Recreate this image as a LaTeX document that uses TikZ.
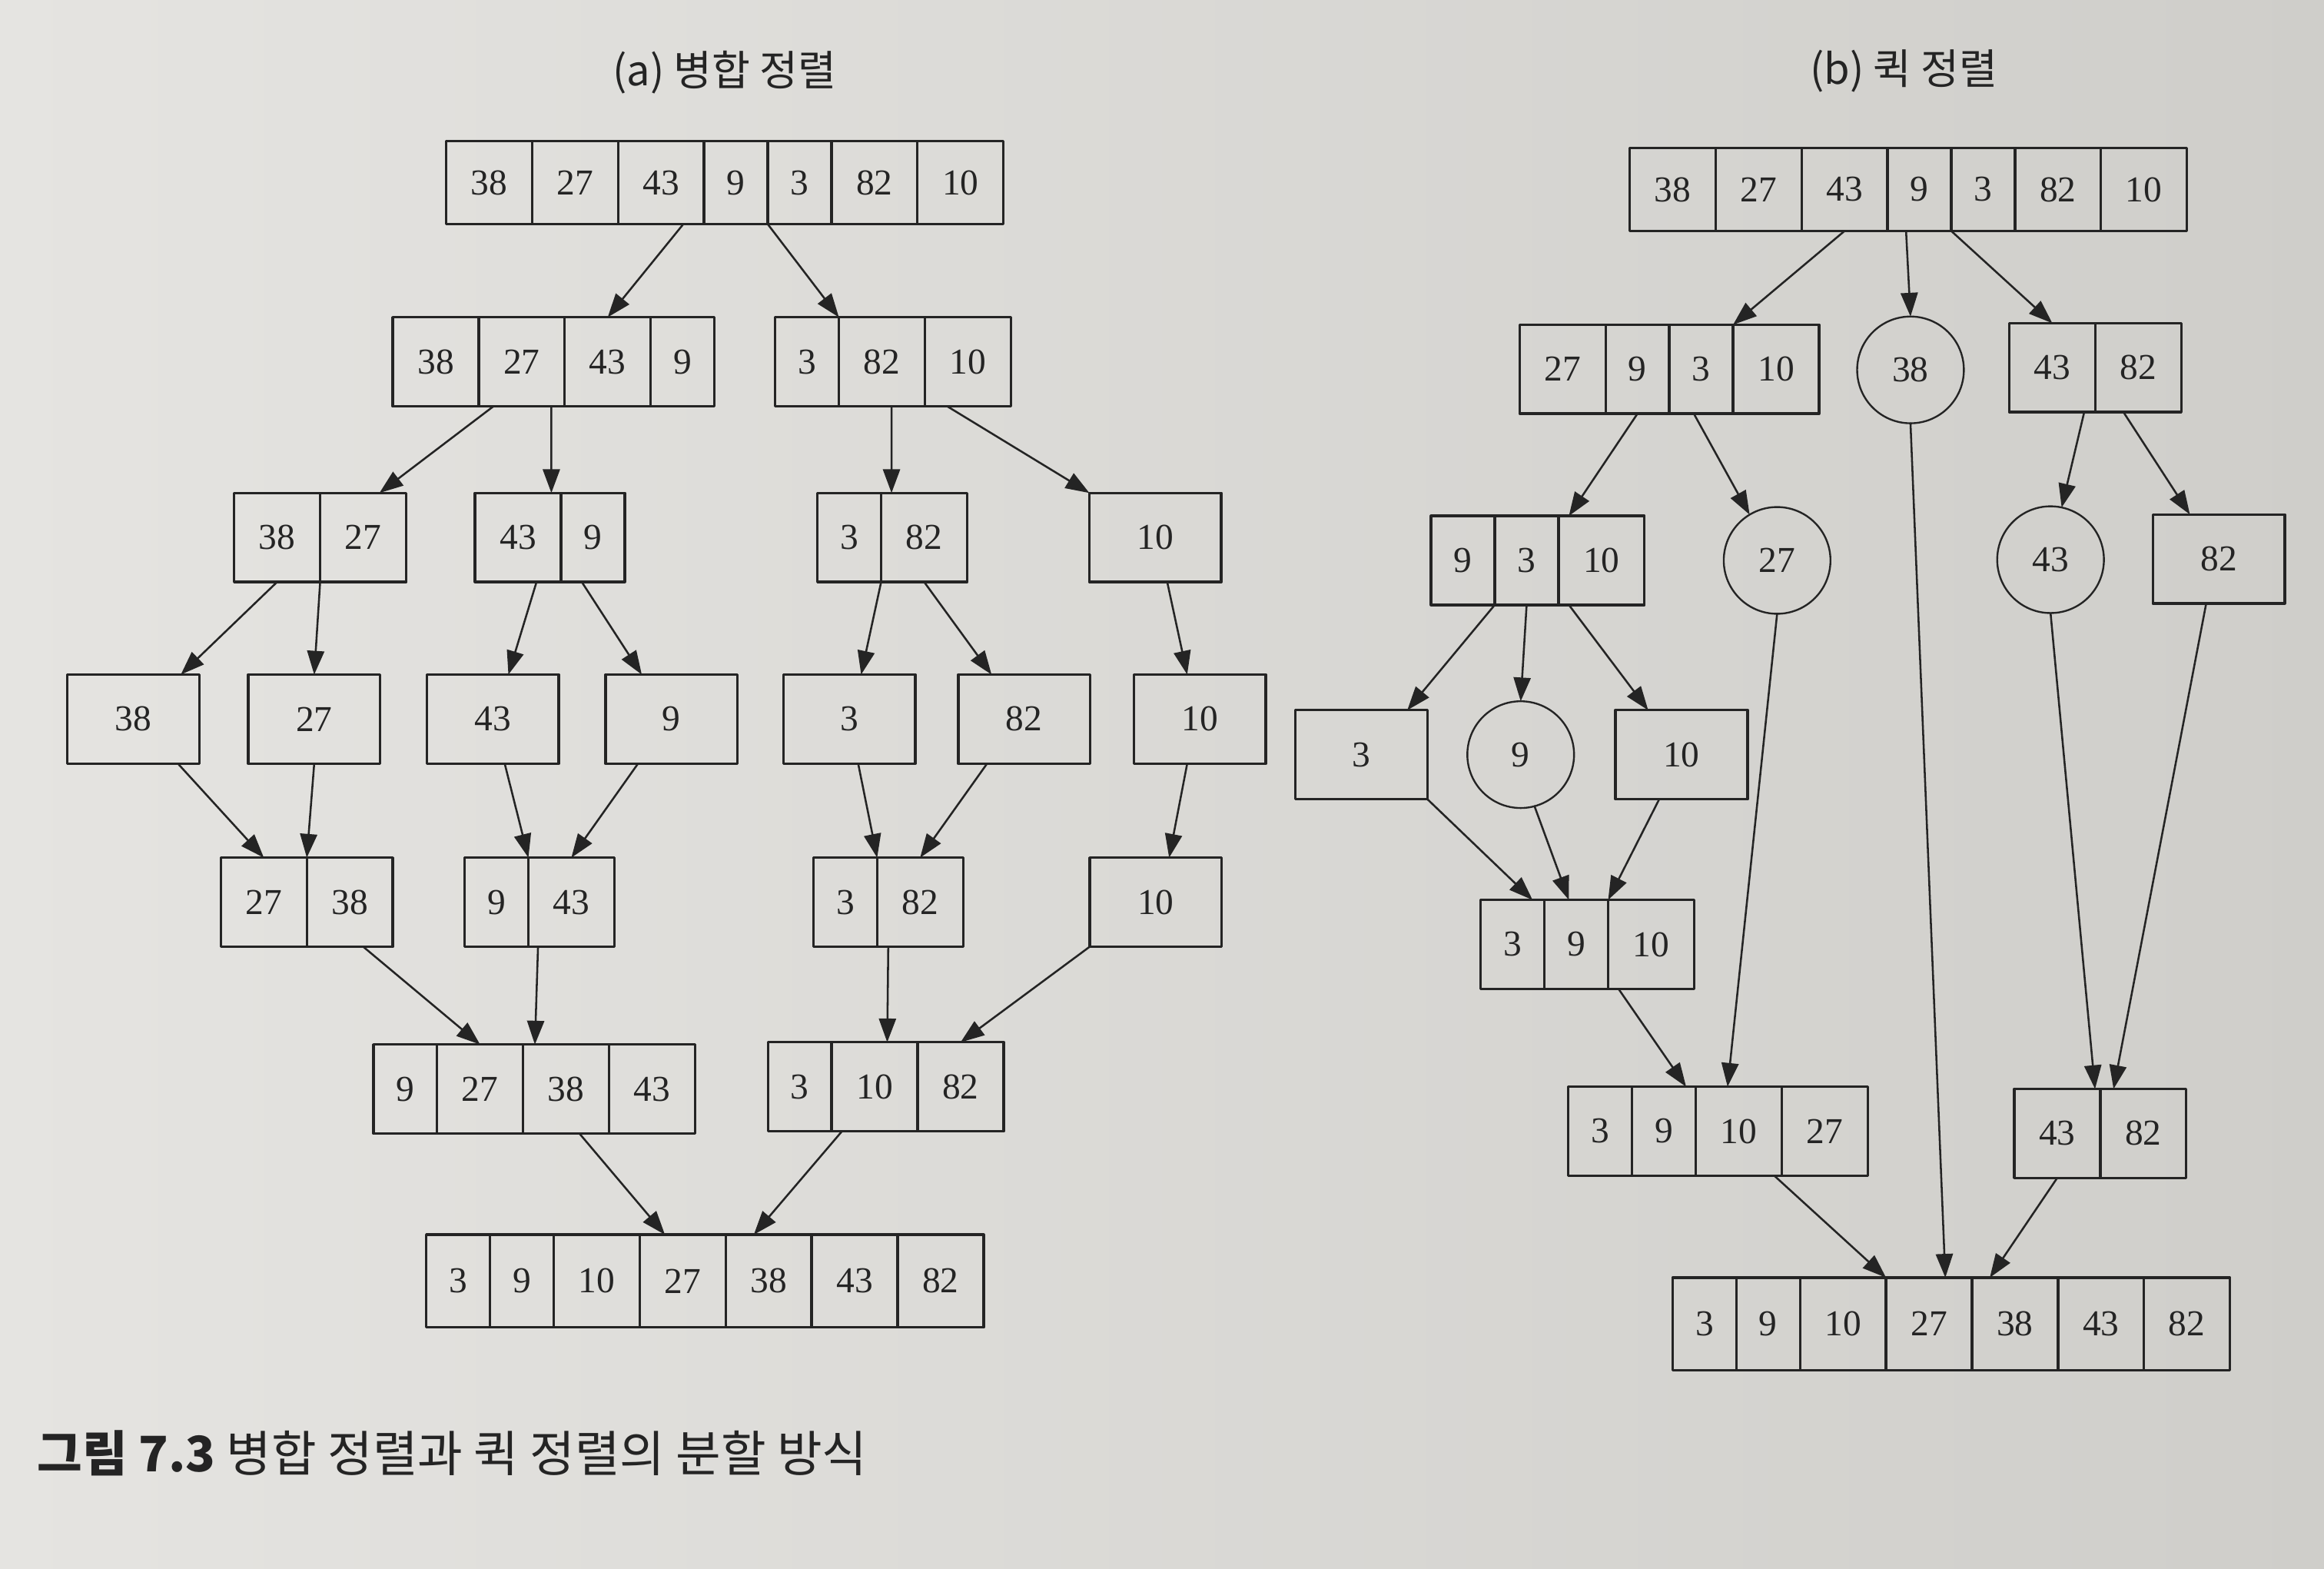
\documentclass[tikz,border=0pt]{standalone}
\usepackage{fontspec}
\setmainfont{Liberation Serif}
\newfontfamily\kr{Noto Sans CJK KR}
\usetikzlibrary{arrows.meta}
\definecolor{ink}{RGB}{36,36,36}
\definecolor{paperl}{RGB}{229,228,225}
\definecolor{paperr}{RGB}{207,206,202}
\tikzset{
	cell/.style={draw=ink,line width=1pt,minimum width=1.16cm,minimum height=1.2cm,inner sep=0pt,outer sep=0pt,text=ink,font=\fontsize{14}{16}\selectfont},
	cellnarrow/.style={cell,minimum width=0.86cm},
	leaf/.style={cell,minimum width=1.78cm},
	pivot/.style={circle,draw=ink,line width=0.7pt,minimum size=1.44cm,inner sep=0pt,outer sep=0pt,text=ink,font=\fontsize{14}{16}\selectfont},
	toprow/.style={minimum height=1.12cm},
	lastrow/.style={minimum height=1.25cm},
	link/.style={->,draw=ink,line width=0.75pt}
}
\begin{document}
\begin{tikzpicture}[line cap=round,line join=round,>={Triangle[length=3.2mm,width=2.3mm]},x=0.2mm,y=-0.2mm]
			\clip(0,0) rectangle (1568,1058);
			\shade [left color=paperl,right color=paperr] (0,0) rectangle (1568,1058);
			% (a) merge sort
			\node [font=\kr\fontsize{16}{19}\selectfont,text=ink] (ta) at (489,49) {(a) 병합 정렬};
			\node [cell,toprow] (m0-1) at (330,123.2) {38};
			\node [cell,toprow] (m0-2) at (388,123.2) {27};
			\node [cell,toprow] (m0-3) at (446,123.2) {43};
			\node [cellnarrow,toprow] (m0-4) at (496.5,123.2) {9};
			\node [cellnarrow,toprow] (m0-5) at (539.5,123.2) {3};
			\node [cell,toprow] (m0-6) at (590,123.2) {82};
			\node [cell,toprow] (m0-7) at (648,123.2) {10};
			\node [cell] (m1a-1) at (294,244) {38};
			\node [cell] (m1a-2) at (352,244) {27};
			\node [cell] (m1a-3) at (410,244) {43};
			\node [cellnarrow] (m1a-4) at (460.5,244) {9};
			\node [cellnarrow] (m1b-1) at (544.5,244) {3};
			\node [cell] (m1b-2) at (595,244) {82};
			\node [cell] (m1b-3) at (653,244) {10};
			\node [cell] (m2a-1) at (187,362.5) {38};
			\node [cell] (m2a-2) at (245,362.5) {27};
			\node [cell] (m2b-1) at (349.5,362.5) {43};
			\node [cellnarrow] (m2b-2) at (400,362.5) {9};
			\node [cellnarrow] (m2c-1) at (573,362.5) {3};
			\node [cell] (m2c-2) at (623.5,362.5) {82};
			\node [leaf] (m2d) at (779.5,362.5) {10};
			\node [leaf] (m3a) at (90,485) {38};
			\node [leaf] (m3b) at (212,485) {27};
			\node [leaf] (m3c) at (332.5,485) {43};
			\node [leaf] (m3d) at (453,485) {9};
			\node [leaf] (m3e) at (573,485) {3};
			\node [leaf] (m3f) at (691,485) {82};
			\node [leaf] (m3g) at (809.5,485) {10};
			\node [cell] (m4a-1) at (178,608.5) {27};
			\node [cell] (m4a-2) at (236,608.5) {38};
			\node [cellnarrow] (m4b-1) at (335,608.5) {9};
			\node [cell] (m4b-2) at (385.5,608.5) {43};
			\node [cellnarrow] (m4c-1) at (570.3,608.5) {3};
			\node [cell] (m4c-2) at (620.8,608.5) {82};
			\node [leaf] (m4d) at (779.8,608.5) {10};
			\node [cellnarrow] (m5a-1) at (273.4,734.5) {9};
			\node [cell] (m5a-2) at (323.9,734.5) {27};
			\node [cell] (m5a-3) at (381.9,734.5) {38};
			\node [cell] (m5a-4) at (439.9,734.5) {43};
			\node [cellnarrow] (m5b-1) at (539.6,733) {3};
			\node [cell] (m5b-2) at (590.1,733) {10};
			\node [cell] (m5b-3) at (648.1,733) {82};
			\node [cellnarrow,lastrow] (m6-1) at (309.1,864) {3};
			\node [cellnarrow,lastrow] (m6-2) at (352.1,864) {9};
			\node [cell,lastrow] (m6-3) at (402.6,864) {10};
			\node [cell,lastrow] (m6-4) at (460.6,864) {27};
			\node [cell,lastrow] (m6-5) at (518.6,864) {38};
			\node [cell,lastrow] (m6-6) at (576.6,864) {43};
			\node [cell,lastrow] (m6-7) at (634.6,864) {82};
			\draw [link] ([xshift=3mm]m0-3.south)-- (m1a-3.north);
			\draw [link] (m0-4.south east)-- (m1b-1.north east);
			\draw [link] ([xshift=2mm]m1a-2.south west)-- ([xshift=2.2mm]m2a-2.north);
			\draw [link] ([xshift=4mm]m1a-2.south)-- ([xshift=4.5mm]m2b-1.north);
			\draw [link] ([xshift=1.3mm]m1b-2.south)-- ([xshift=1.4mm]m2c-1.north east);
			\draw [link] ([xshift=3mm]m1b-3.south west)-- (m2d.north west);
			\draw [link] (m2a-1.south)-- ([xshift=6.4mm]m3a.north);
			\draw [link] (m2a-1.south east)-- (m3b.north);
			\draw [link] ([xshift=2.5mm]m2b-1.south)-- ([xshift=2.1mm]m3c.north);
			\draw [link] ([xshift=-1.5mm]m2b-2.south)-- ([xshift=-4mm]m3d.north);
			\draw [link] (m2c-1.south east)-- ([xshift=1.6mm]m3e.north);
			\draw [link] (m2c-2.south)-- ([xshift=-4.4mm]m3f.north);
			\draw [link] ([xshift=1.6mm]m2d.south)-- ([xshift=-1.7mm]m3g.north);
			\draw [link] ([xshift=6mm]m3a.south)-- (m4a-1.north);
			\draw [link] (m3b.south)-- (m4a-1.north east);
			\draw [link] ([xshift=1.6mm]m3c.south)-- (m4b-1.north east);
			\draw [link] ([xshift=-4.5mm]m3d.south)-- (m4b-2.north);
			\draw [link] ([xshift=1.2mm]m3e.south)-- (m4c-1.north east);
			\draw [link] ([xshift=-5mm]m3f.south)-- (m4c-2.north);
			\draw [link] ([xshift=-1.7mm]m3g.south)-- ([xshift=1.8mm]m4d.north);
			\draw [link] ([xshift=1.8mm]m4a-2.south)-- (m5a-2.north);
			\draw [link] ([xshift=1.3mm]m4b-1.south east)-- ([xshift=1.6mm]m5a-3.north west);
			\draw [link] ([xshift=1.5mm]m4c-1.south east)-- ([xshift=1.7mm]m5b-2.north);
			\draw [link] (m4d.south west)-- (m5b-3.north);
			\draw [link] ([xshift=1.8mm]m5a-3.south)-- ([xshift=-2.4mm]m6-4.north);
			\draw [link] ([xshift=1.4mm]m5b-1.south east)-- ([xshift=-2mm]m6-5.north);
			% (b) quick sort
			\node [font=\kr\fontsize{16}{19}\selectfont,text=ink] (tb) at (1284.5,48) {(b) 퀵 정렬};
			\node [cell,toprow] (q0-1) at (1128.5,127.8) {38};
			\node [cell,toprow] (q0-2) at (1186.5,127.8) {27};
			\node [cell,toprow] (q0-3) at (1244.5,127.8) {43};
			\node [cellnarrow,toprow] (q0-4) at (1295,127.8) {9};
			\node [cellnarrow,toprow] (q0-5) at (1338,127.8) {3};
			\node [cell,toprow] (q0-6) at (1388.5,127.8) {82};
			\node [cell,toprow] (q0-7) at (1446.5,127.8) {10};
			\node [cell] (q1a-1) at (1054.3,249) {27};
			\node [cellnarrow] (q1a-2) at (1104.8,249) {9};
			\node [cellnarrow] (q1a-3) at (1147.8,249) {3};
			\node [cell] (q1a-4) at (1198.3,249) {10};
			\node [pivot] (q1b) at (1289,249.5) {38};
			\node [cell] (q1c-1) at (1384.7,248) {43};
			\node [cell] (q1c-2) at (1442.7,248) {82};
			\node [cellnarrow] (q2a-1) at (987,378) {9};
			\node [cellnarrow] (q2a-2) at (1030,378) {3};
			\node [cell] (q2a-3) at (1080.5,378) {10};
			\node [pivot] (q2b) at (1199,378) {27};
			\node [pivot] (q2c) at (1383.5,377.5) {43};
			\node [leaf] (q2d) at (1497,377) {82};
			\node [leaf] (q3a) at (918.5,509) {3};
			\node [pivot] (q3b) at (1026,509) {9};
			\node [leaf] (q3c) at (1134.5,509) {10};
			\node [cellnarrow] (q4-1) at (1020.5,637) {3};
			\node [cellnarrow] (q4-2) at (1063.5,637) {9};
			\node [cell] (q4-3) at (1114,637) {10};
			\node [cellnarrow] (q5a-1) at (1079.6,763) {3};
			\node [cellnarrow] (q5a-2) at (1122.6,763) {9};
			\node [cell] (q5a-3) at (1173.1,763) {10};
			\node [cell] (q5a-4) at (1231.1,763) {27};
			\node [cell] (q5b-1) at (1388,764.5) {43};
			\node [cell] (q5b-2) at (1446,764.5) {82};
			\node [cellnarrow,lastrow] (q6-1) at (1150,893) {3};
			\node [cellnarrow,lastrow] (q6-2) at (1193,893) {9};
			\node [cell,lastrow] (q6-3) at (1243.5,893) {10};
			\node [cell,lastrow] (q6-4) at (1301.5,893) {27};
			\node [cell,lastrow] (q6-5) at (1359.5,893) {38};
			\node [cell,lastrow] (q6-6) at (1417.5,893) {43};
			\node [cell,lastrow] (q6-7) at (1475.5,893) {82};
			\draw [link] (q0-3.south)-- (q1a-3.north east);
			\draw [link] ([xshift=-1.8mm]q0-4.south)-- (q1b.north);
			\draw [link] (q0-4.south east)-- (q1c-1.north);
			\draw [link] (q1a-2.south)-- ([xshift=1.4mm]q2a-3.north west);
			\draw [link] ([xshift=-1mm]q1a-3.south)-- (q2b.121);
			\draw [link] ([xshift=-1.5mm]q1c-1.south east)-- (q2c.78);
			\draw [link] ([xshift=-2mm]q1c-2.south)-- ([xshift=-3.9mm]q2d.north);
			\draw [link] (q1b.south)-- ([xshift=2.2mm]q6-4.north);
			\draw [link] (q2a-1.south east)-- ([xshift=6.2mm]q3a.north);
			\draw [link] (q2a-2.south)-- (q3b.north);
			\draw [link] ([xshift=1.4mm]q2a-3.south west)-- ([xshift=-4.5mm]q3c.north);
			\draw [link] (q3a.south east)-- ([xshift=-1.6mm]q4-1.north east);
			\draw [link] (q3b.-75)-- ([xshift=-1mm]q4-2.north);
			\draw [link] ([xshift=-3mm]q3c.south)-- (q4-2.north east);
			\draw [link] ([xshift=1.4mm]q4-3.south west)-- ([xshift=-1.3mm]q5a-2.north east);
			\draw [link] (q2b.south)-- ([xshift=-1.5mm]q5a-3.north);
			\draw [link] (q2c.south)-- ([xshift=-0.7mm]q5b-1.north east);
			\draw [link] ([xshift=-1.7mm]q2d.south)-- ([xshift=1.8mm]q5b-1.north east);
			\draw [link] ([xshift=-1mm]q5a-3.south east)-- (q6-4.north west);
			\draw [link] (q5b-1.south)-- ([xshift=2.4mm]q6-5.north west);
			% caption
			\node [anchor=west,inner sep=0pt,font=\kr\fontsize{18.8}{22}\selectfont,text=ink] (cap) at (25,980) {\textbf{그림 7.3} 병합 정렬과 퀵 정렬의 분할 방식};
		\end{tikzpicture}
\end{document}
